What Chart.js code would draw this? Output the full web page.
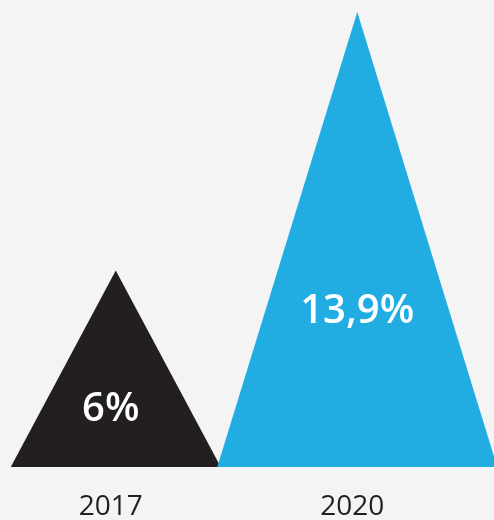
<!DOCTYPE html>
<html>
<head>
<meta charset="utf-8">
<script src="https://cdn.jsdelivr.net/npm/chart.js@4"></script>
<style>
  html, body { margin: 0; padding: 0; background: #f4f4f4; overflow: hidden; }
  #wrap { position: absolute; left: -5px; top: 0; width: 504px; height: 520px; }
</style>
</head>
<body>
<div id="wrap"><canvas id="chart"></canvas></div>
<script>
// ── Data ──────────────────────────────────────────
const years = ['2017', '2020'];
const shares = [6, 13.9];
const shareLabels = ['6%', '13,9%'];

// ── Styles ────────────────────────────────────────
const FILLS = ['#231f20', '#21ade2'];
const HALF_BASE = [105, 140];   // triangle half-width at the base, px
const LABEL_RISE = [57, 155];   // value label height above the base, px
const FONT = "'Open Sans', sans-serif";

// Draw each bar as a triangle: apex at the value, base on zero
const trianglePlugin = {
    id: 'triangles',
    afterDatasetsDraw(chart) {
        const ctx = chart.ctx;
        const meta = chart.getDatasetMeta(0);
        meta.data.forEach((bar, i) => {
            const half = HALF_BASE[i];
            ctx.save();
            ctx.fillStyle = FILLS[i];
            ctx.beginPath();
            ctx.moveTo(bar.x, bar.y);
            ctx.lineTo(bar.x + half, bar.base);
            ctx.lineTo(bar.x - half, bar.base);
            ctx.closePath();
            ctx.fill();
            ctx.restore();
        });
        // value labels inside the triangles
        meta.data.forEach((bar, i) => {
            ctx.save();
            ctx.fillStyle = '#ffffff';
            ctx.font = '600 40px ' + FONT;
            ctx.textAlign = 'center';
            ctx.textBaseline = 'middle';
            ctx.fillText(shareLabels[i], bar.x - (i === 0 ? 5 : 0), bar.base - LABEL_RISE[i]);
            ctx.restore();
        });
    }
};

new Chart(document.getElementById('chart'), {
    type: 'bar',
    data: {
        labels: years,
        datasets: [{
            data: shares,
            backgroundColor: 'rgba(0,0,0,0)',
            borderWidth: 0
        }]
    },
    options: {
        responsive: true,
        maintainAspectRatio: false,
        animation: false,
        layout: { padding: { top: 12, right: 21, left: 0, bottom: 0 } },
        plugins: {
            legend: { display: false },
            tooltip: { enabled: false }
        },
        scales: {
            y: {
                display: false,
                min: 0,
                max: 13.9
            },
            x: {
                grid: { display: false, drawTicks: false },
                border: { display: false },
                afterFit(scale) { scale.height = 53; },
                ticks: {
                    color: '#231f20',
                    font: { size: 28, family: FONT },
                    padding: 23,
                    labelOffset: -5
                }
            }
        }
    },
    plugins: [trianglePlugin]
});
</script>
</body>
</html>
